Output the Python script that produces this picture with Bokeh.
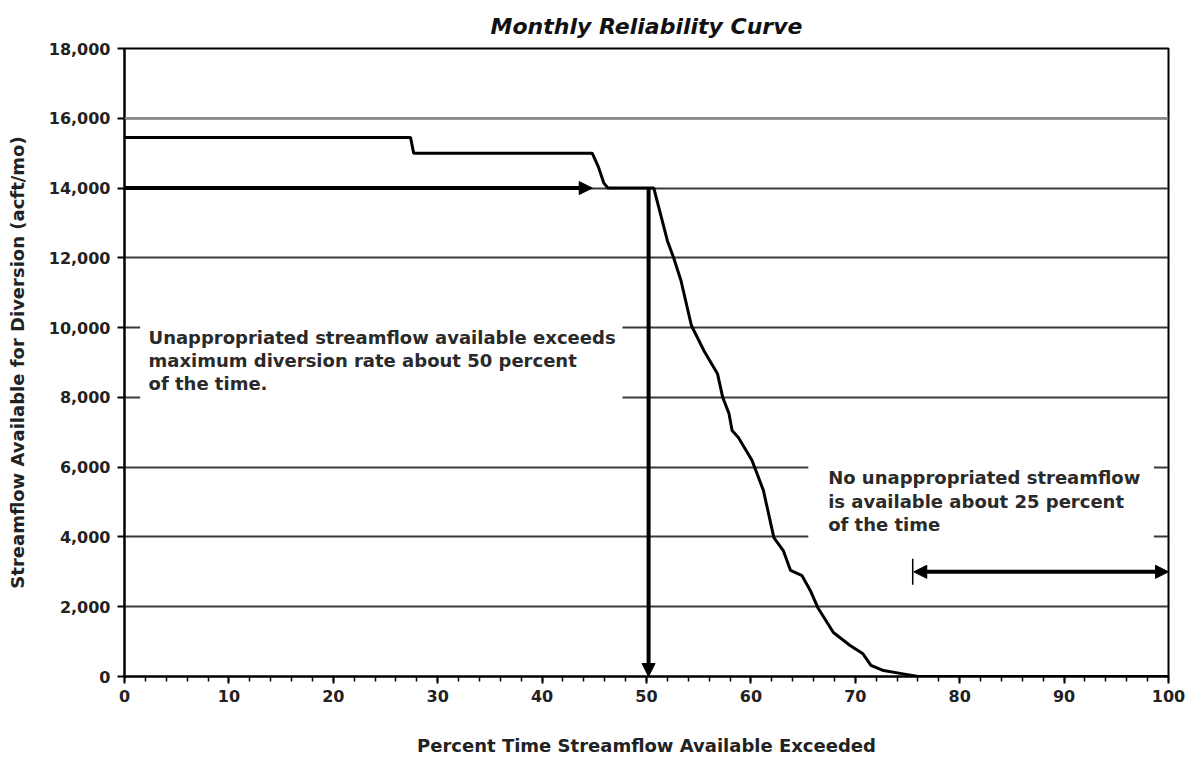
from bokeh.plotting import figure
from bokeh.models import (Range1d, SingleIntervalTicker, FixedTicker, NumeralTickFormatter,
                          Arrow, NormalHead, TeeHead, Label, BoxAnnotation, Span)
from bokeh.embed import file_html
from bokeh.resources import INLINE

# ---- data ----
pct_exceeded = [0, 27.4, 27.7, 44.8, 45.4, 45.9, 46.3, 50.7, 52.0, 52.6, 53.3, 54.3, 55.5,
                56.8, 57.3, 57.9, 58.2, 58.8, 60.1, 61.2, 62.2, 63.1, 63.8, 64.9, 65.7,
                66.4, 67.9, 69.5, 70.7, 71.5, 72.7, 74.3, 76.0, 100]
flow_acft = [15450, 15450, 15000, 15000, 14600, 14150, 14000, 14000, 12490, 12000, 11350,
             10060, 9340, 8680, 8000, 7540, 7050, 6850, 6200, 5330, 3980, 3610, 3040, 2890,
             2460, 1980, 1260, 890, 660, 320, 170, 90, 0, 0]
y_ticks = [0, 2000, 4000, 6000, 8000, 10000, 12000, 14000, 16000, 18000]
max_diversion = 14000
pct_50 = 50.2
no_flow_start = 75.5
no_flow_y = 3000

title_text = "Monthly Reliability Curve"
x_label = "Percent Time Streamflow Available Exceeded"
y_label = "Streamflow Available for Diversion (acft/mo)"
note1 = ["Unappropriated streamflow available exceeds",
         "maximum diversion rate about 50 percent",
         "of the time."]
note2 = ["No unappropriated streamflow",
         "is available about 25 percent",
         "of the time"]

FONT = "DejaVu Sans"

p = figure(width=1195, height=758, output_backend="svg", toolbar_location=None,
           x_range=Range1d(0, 100), y_range=Range1d(0, 18000),
           min_border_left=124, min_border_right=27, min_border_top=48, min_border_bottom=82)

p.title.text = title_text
p.title.align = "center"
p.title.text_font = FONT
p.title.text_font_size = "22px"
p.title.text_font_style = "bold italic"
p.title.text_color = "#111111"
p.title.standoff = 20

p.outline_line_color = "black"
p.outline_line_width = 2
p.background_fill_color = "white"
p.border_fill_color = "white"

# axes
p.xaxis.ticker = SingleIntervalTicker(interval=10, num_minor_ticks=5)
p.yaxis.ticker = FixedTicker(ticks=y_ticks)
p.yaxis.formatter = NumeralTickFormatter(format="0,0")
for ax in (p.xaxis[0], p.yaxis[0]):
    ax.axis_line_color = "black"
    ax.axis_line_width = 2
    ax.major_tick_line_color = "black"
    ax.major_tick_line_width = 2
    ax.major_tick_in = 0
    ax.major_tick_out = 7
    ax.major_label_text_font = FONT
    ax.major_label_text_font_size = "16px"
    ax.major_label_text_font_style = "bold"
    ax.major_label_text_color = "#222222"
    ax.axis_label_text_font = FONT
    ax.axis_label_text_font_size = "18px"
    ax.axis_label_text_font_style = "bold"
    ax.axis_label_text_color = "#222222"
p.xaxis.minor_tick_line_color = "black"
p.xaxis.minor_tick_line_width = 1.5
p.xaxis.minor_tick_in = 0
p.xaxis.minor_tick_out = 5
p.yaxis.minor_tick_line_color = None
p.xaxis.axis_label = x_label
p.yaxis.axis_label = y_label
p.xaxis.major_label_standoff = 6
p.xaxis.axis_label_standoff = 30
p.yaxis.major_label_standoff = 7
p.yaxis.axis_label_standoff = 18

p.xgrid.grid_line_color = None
p.ygrid.grid_line_color = "#3a3a3a"
p.ygrid.grid_line_width = 2

p.add_layout(Span(location=16000, dimension="width", line_color="#8a8a8a", line_width=2))

# white boxes behind annotations
p.add_layout(BoxAnnotation(left=1.5, right=47.7, top=10250, bottom=7800,
                           fill_color="white", fill_alpha=1, line_color=None, level="underlay"))
p.add_layout(BoxAnnotation(left=65.5, right=98.6, top=6200, bottom=3820,
                           fill_color="white", fill_alpha=1, line_color=None, level="underlay"))

# curve
p.line(pct_exceeded, flow_acft, line_color="black", line_width=3)

# arrows
p.add_layout(Arrow(x_start=0, y_start=max_diversion, x_end=44.8, y_end=max_diversion,
                   line_width=4, line_color="black",
                   end=NormalHead(size=13, fill_color="black", line_color="black")))
p.add_layout(Arrow(x_start=pct_50, y_start=max_diversion, x_end=pct_50, y_end=0,
                   line_width=4, line_color="black",
                   end=NormalHead(size=13, fill_color="black", line_color="black")))
p.add_layout(Arrow(x_start=no_flow_start + 0.1, y_start=no_flow_y, x_end=100, y_end=no_flow_y,
                   line_width=4, line_color="black",
                   start=NormalHead(size=13, fill_color="black", line_color="black"),
                   end=NormalHead(size=13, fill_color="black", line_color="black")))
p.add_layout(Arrow(x_start=no_flow_start, y_start=no_flow_y, x_end=no_flow_start + 1, y_end=no_flow_y,
                   line_width=0, line_alpha=0,
                   start=TeeHead(size=26, line_width=1.5, line_color="black"), end=None))

# notes
for i, t in enumerate(note1):
    p.add_layout(Label(x=2.3, y=9720, y_offset=-23 * i, text=t, text_font=FONT,
                       text_font_size="18px", text_font_style="bold", text_color="#2a2a2a",
                       text_baseline="middle"))
for i, t in enumerate(note2):
    p.add_layout(Label(x=67.4, y=5700, y_offset=-23.5 * i, text=t, text_font=FONT,
                       text_font_size="18px", text_font_style="bold", text_color="#2a2a2a",
                       text_baseline="middle"))

open("out.html", "w").write(file_html(p, INLINE))
